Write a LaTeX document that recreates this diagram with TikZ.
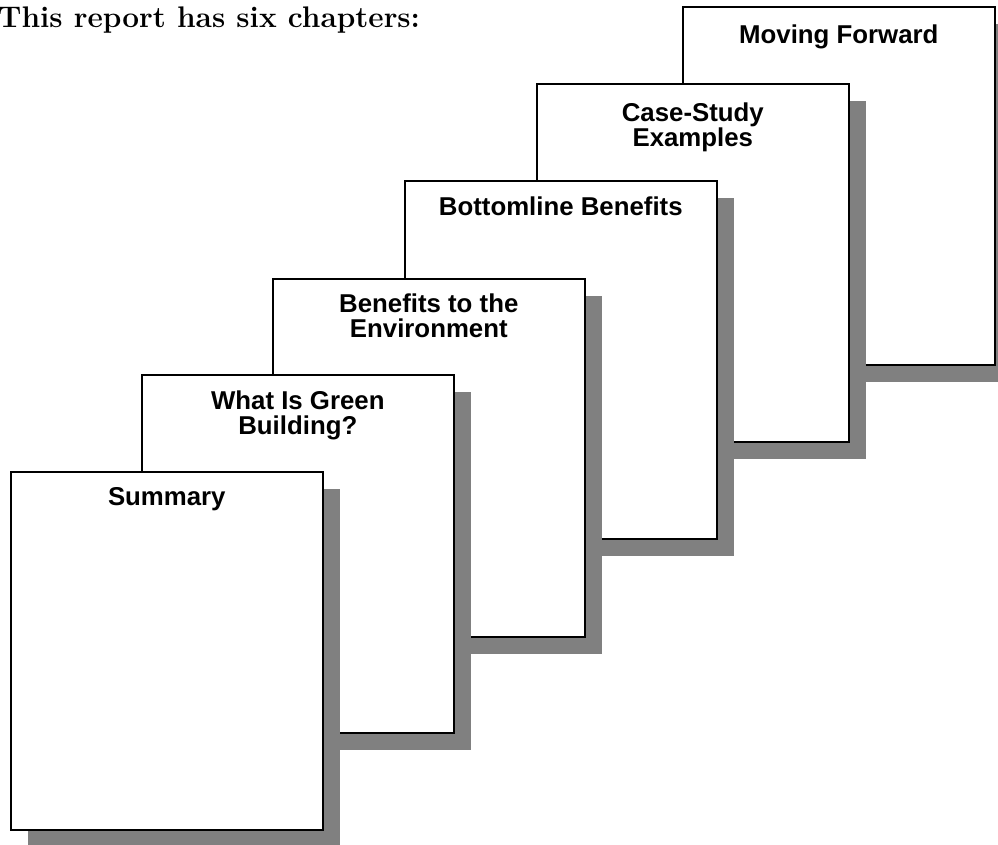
\documentclass[tikz,border=0pt]{standalone}
\usepackage{fontspec}
\usetikzlibrary{positioning, shadows}
\newfontfamily\chapfont{Liberation Sans}

\begin{document}
\begin{tikzpicture}[
    x=1pt, y=-1pt,
    page/.style={rectangle, draw=black, fill=white, line width=1.6pt, minimum width=312pt, minimum height=358pt, anchor=north west, inner sep=0pt,
      drop shadow={shadow xshift=17pt, shadow yshift=-17pt, fill=black!50, opacity=1}},
    chap/.style={inner sep=0pt, align=center, font=\chapfont\bfseries\fontsize{25.8}{24.4}\selectfont},
  ]
    \useasboundingbox (0,0) rectangle (998,844);

    \node[inner sep=0pt, anchor=base west, font=\bfseries\fontsize{29.8}{32}\selectfont] (head) at (-2,27) {This report has six chapters:};

    % pages, back to front
    \node[page] (p6) at (682,6) {};
    \node[chap, below=19pt of p6.north] (t6) {Moving Forward};

    \node[page] (p5) at (536,83) {};
    \node[chap, below=20pt of p5.north] (t5) {Case-Study\\Examples};

    \node[page] (p4) at (404,180) {};
    \node[chap, below=17pt of p4.north] (t4) {Bottomline Benefits};

    \node[page] (p3) at (272,278) {};
    \node[chap, below=16pt of p3.north] (t3) {Benefits to the\\Environment};

    \node[page] (p2) at (141,374) {};
    \node[chap, below=17pt of p2.north] (t2) {What Is Green\\Building?};

    \node[page] (p1) at (10,471) {};
    \node[chap, below=16pt of p1.north] (t1) {Summary};
  \end{tikzpicture}
\end{document}
